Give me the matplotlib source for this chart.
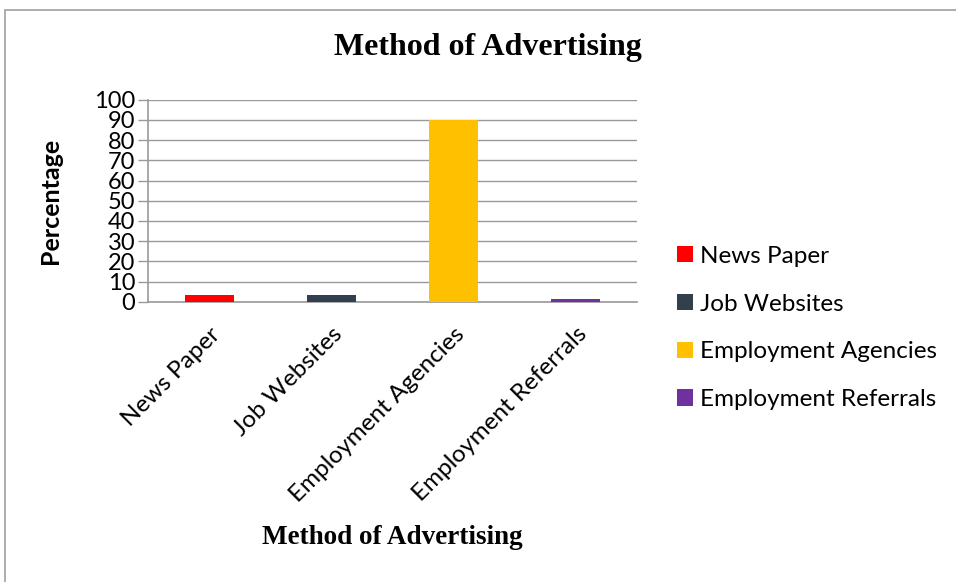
import matplotlib
matplotlib.use("Agg")
import matplotlib.pyplot as plt
from matplotlib.patches import Rectangle, Patch

# Survey results: share of respondents by advertising method
categories = ["News Paper", "Job Websites", "Employment Agencies", "Employment Referrals"]
percentages = [3.33, 3.33, 90.0, 1.4]
bar_colors = ["#ff0000", "#323f4f", "#ffc000", "#7030a0"]
y_ticks = list(range(0, 101, 10))

sans = ["Lato", "DejaVu Sans"]
serif = ["Liberation Serif", "DejaVu Serif"]

fig = plt.figure(figsize=(9.56, 5.82), dpi=100)
fig.patch.set_facecolor("white")

# chart border (runs off the right and bottom edges)
fig.add_artist(Rectangle((4.5 / 956, -0.1), 2.0, 1 - 9.5 / 582 + 0.1,
                         transform=fig.transFigure, fill=False,
                         edgecolor="#a0a0a0", linewidth=1.2))

ax = fig.add_axes([148 / 956, 1 - 301.7 / 582, (637 - 148) / 956, (301.7 - 99.7) / 582])

x = list(range(len(categories)))
ax.bar(x, percentages, width=0.4, color=bar_colors, zorder=3)

ax.set_xlim(-0.5, len(categories) - 0.5)
ax.set_ylim(0, 100)
ax.set_yticks(y_ticks)
ax.set_yticklabels([str(v) for v in y_ticks], fontsize=17, family=sans)
# slanted labels end just right of each category centre
ax.set_xticks([i + 0.06 for i in x])
ax.set_xticklabels(categories, rotation=45, ha="right", va="center",
                   rotation_mode="anchor", fontsize=17.5, family=sans)

ax.grid(axis="y", color="#999999", linewidth=1.0, zorder=0)
for side in ("top", "right"):
    ax.spines[side].set_visible(False)
for side in ("left", "bottom"):
    ax.spines[side].set_color("#999999")
    ax.spines[side].set_linewidth(1.2)
ax.tick_params(axis="y", length=7, color="#999999", width=1.0, pad=2)
ax.tick_params(axis="x", length=0, pad=21)

ax.set_ylabel("Percentage", fontsize=18, fontweight="bold", family=sans, labelpad=6)
ax.yaxis.set_label_coords(-(148 - 62) / 489, 0.5)
ax.set_xlabel("Method of Advertising", fontsize=19.5, fontweight="bold", family=serif)
ax.xaxis.set_label_coords((392 - 148) / 489, -(537 - 301.7) / 202)
ax.xaxis.label.set_va("center")

fig.text(488 / 956, 1 - 48 / 582, "Method of Advertising", ha="center", va="center",
         fontsize=23, fontweight="bold", family=serif)

handles = [Patch(facecolor=c, edgecolor="none") for c in bar_colors]
fig.legend(handles, categories, loc="center left", bbox_to_anchor=(670 / 956, 1 - 328 / 582),
           frameon=False, prop={"family": sans, "size": 17.5},
           handlelength=0.65, handleheight=0.65, handletextpad=0.3, labelspacing=1.1,
           borderaxespad=0, borderpad=0.3)

fig.savefig("out.png", dpi=100, facecolor="white")
